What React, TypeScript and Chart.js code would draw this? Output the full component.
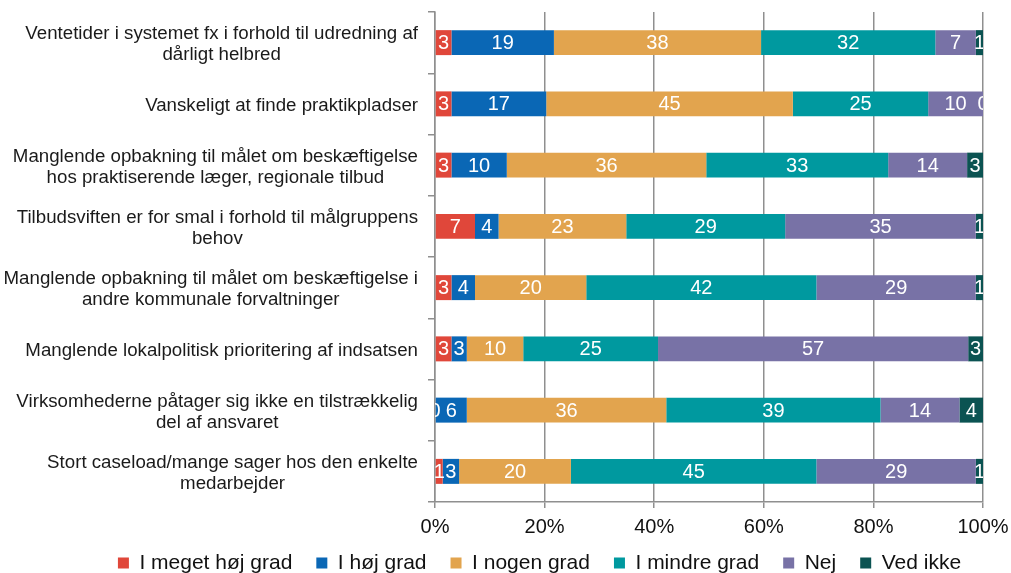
import { useEffect, useRef } from "react";
import { Chart, registerables } from "chart.js";

Chart.register(...registerables);

const categories: string[][] = [
  ["Ventetider i systemet fx i forhold til udredning af", "dårligt helbred"],
  ["Vanskeligt at finde praktikpladser"],
  ["Manglende opbakning til målet om beskæftigelse", "hos praktiserende læger, regionale tilbud"],
  ["Tilbudsviften er for smal i forhold til målgruppens", "behov"],
  ["Manglende opbakning til målet om beskæftigelse i", "andre kommunale forvaltninger"],
  ["Manglende lokalpolitisk prioritering af indsatsen"],
  ["Virksomhederne påtager sig ikke en tilstrækkelig", "del af ansvaret"],
  ["Stort caseload/mange sager hos den enkelte", "medarbejder"],
];

const seriesNames = ["I meget høj grad", "I høj grad", "I nogen grad", "I mindre grad", "Nej", "Ved ikke"];

const megetHoj = [3.0, 3.0, 3.0, 7.3, 3.0, 3.0, 0, 1.4];
const hoj = [18.7, 17.3, 10.1, 4.3, 4.3, 2.8, 5.8, 3.0];
const nogen = [37.8, 45.0, 36.4, 23.3, 20.3, 10.3, 36.4, 20.4];
const mindre = [31.8, 24.7, 33.2, 29.0, 42.0, 24.6, 39.1, 44.8];
const nej = [7.4, 10.0, 14.4, 34.8, 29.1, 56.6, 14.4, 29.1];
const vedIkke = [1.3, 0, 2.9, 1.3, 1.3, 2.7, 4.3, 1.3];

const xTicks = [0, 20, 40, 60, 80, 100];

const colors = ["#E0473A", "#0A67B5", "#E2A44E", "#00999F", "#7872A6", "#0B5352"];

const FONT = '"Liberation Sans", Arial, sans-serif';
const GRID = "#8f8f8f";
const LEGEND_SHIFT = 10.5;

const yLabelPlugin = {
  id: "yLabels",
  afterDraw(chart: any) {
    const ctx = chart.ctx;
    const y = chart.scales.y;
    const right = chart.chartArea.left - 17;
    ctx.save();
    ctx.font = `18.7px ${FONT}`;
    ctx.fillStyle = "#1a1a1a";
    ctx.textAlign = "center";
    ctx.textBaseline = "middle";
    categories.forEach((lines, i) => {
      const cy = y.getPixelForValue(i);
      const w = Math.max(...lines.map((l) => ctx.measureText(l).width));
      const cx = right - w / 2;
      lines.forEach((l, j) => {
        ctx.fillText(l, cx, cy + 2 + (j - (lines.length - 1) / 2) * 21);
      });
    });
    ctx.restore();
  },
};

const valueLabelPlugin = {
  id: "valueLabels",
  afterDatasetsDraw(chart: any) {
    const { ctx, chartArea } = chart;
    ctx.save();
    ctx.beginPath();
    ctx.rect(chartArea.left, chartArea.top, chartArea.right - chartArea.left, chartArea.bottom - chartArea.top);
    ctx.clip();
    ctx.font = `20px ${FONT}`;
    ctx.fillStyle = "#ffffff";
    ctx.textAlign = "center";
    ctx.textBaseline = "middle";
    chart.data.datasets.forEach((ds: any, di: number) => {
      const meta = chart.getDatasetMeta(di);
      meta.data.forEach((el: any, i: number) => {
        const p = el.getProps(["x", "base", "y"], true);
        ctx.fillText(String(Math.round(ds.data[i])), (p.x + p.base) / 2, p.y + 1);
      });
    });
    ctx.restore();
  },
};

const legendShiftPlugin = {
  id: "legendShift",
  afterLayout(chart: any) {
    const lg = chart.legend;
    if (lg) {
      lg.top -= LEGEND_SHIFT;
      lg.bottom -= LEGEND_SHIFT;
    }
  },
};

export default function App() {
  const ref = useRef<HTMLCanvasElement>(null);

  useEffect(() => {
    if (!ref.current) return;
    const series = [megetHoj, hoj, nogen, mindre, nej, vedIkke];
    const chart = new Chart(ref.current, {
      type: "bar",
      data: {
        labels: categories.map((c) => c.join(" ")),
        datasets: series.map((d, i) => ({
          label: seriesNames[i],
          data: d,
          backgroundColor: colors[i],
          borderWidth: 0,
          categoryPercentage: 0.8,
          barPercentage: 0.51,
        })),
      },
      options: {
        indexAxis: "y",
        animation: false,
        responsive: false,
        devicePixelRatio: 1,
        layout: { padding: { top: 12, left: 68, right: 0, bottom: 0 } },
        plugins: {
          legend: {
            position: "bottom",
            labels: {
              boxWidth: 11,
              boxHeight: 11,
              padding: 24,
              color: "#111111",
              font: { family: FONT, size: 21 },
            },
          },
          tooltip: { enabled: false },
        },
        scales: {
          x: {
            stacked: true,
            min: 0,
            max: 100,
            afterBuildTicks: (s: any) => {
              s.ticks = xTicks.map((v) => ({ value: v }));
            },
            ticks: {
              callback: (v: any) => v + "%",
              color: "#111111",
              font: { family: FONT, size: 20 },
              padding: 7,
              maxRotation: 0,
            },
            grid: { color: GRID, lineWidth: 1.5, tickLength: 6, drawTicks: true },
            border: { display: true, color: GRID, width: 1.5 },
            afterFit: (s: any) => {
              s.height = 37;
              s.paddingRight = 28;
            },
          },
          y: {
            stacked: true,
            ticks: { display: false },
            grid: { drawOnChartArea: false, drawTicks: true, tickLength: 7, color: GRID, lineWidth: 1.5, offset: true },
            border: { display: true, color: GRID, width: 1.5 },
            afterFit: (s: any) => {
              s.width = 367;
            },
          },
        },
      } as any,
      plugins: [valueLabelPlugin, yLabelPlugin, legendShiftPlugin],
    });
    return () => chart.destroy();
  }, []);

  return (
    <div style={{ position: "fixed", left: 0, top: 0, width: 1011, height: 573, overflow: "hidden", background: "#fff" }}>
      <canvas ref={ref} width={1011} height={594} style={{ display: "block", width: 1011, height: 594 }} />
    </div>
  );
}
